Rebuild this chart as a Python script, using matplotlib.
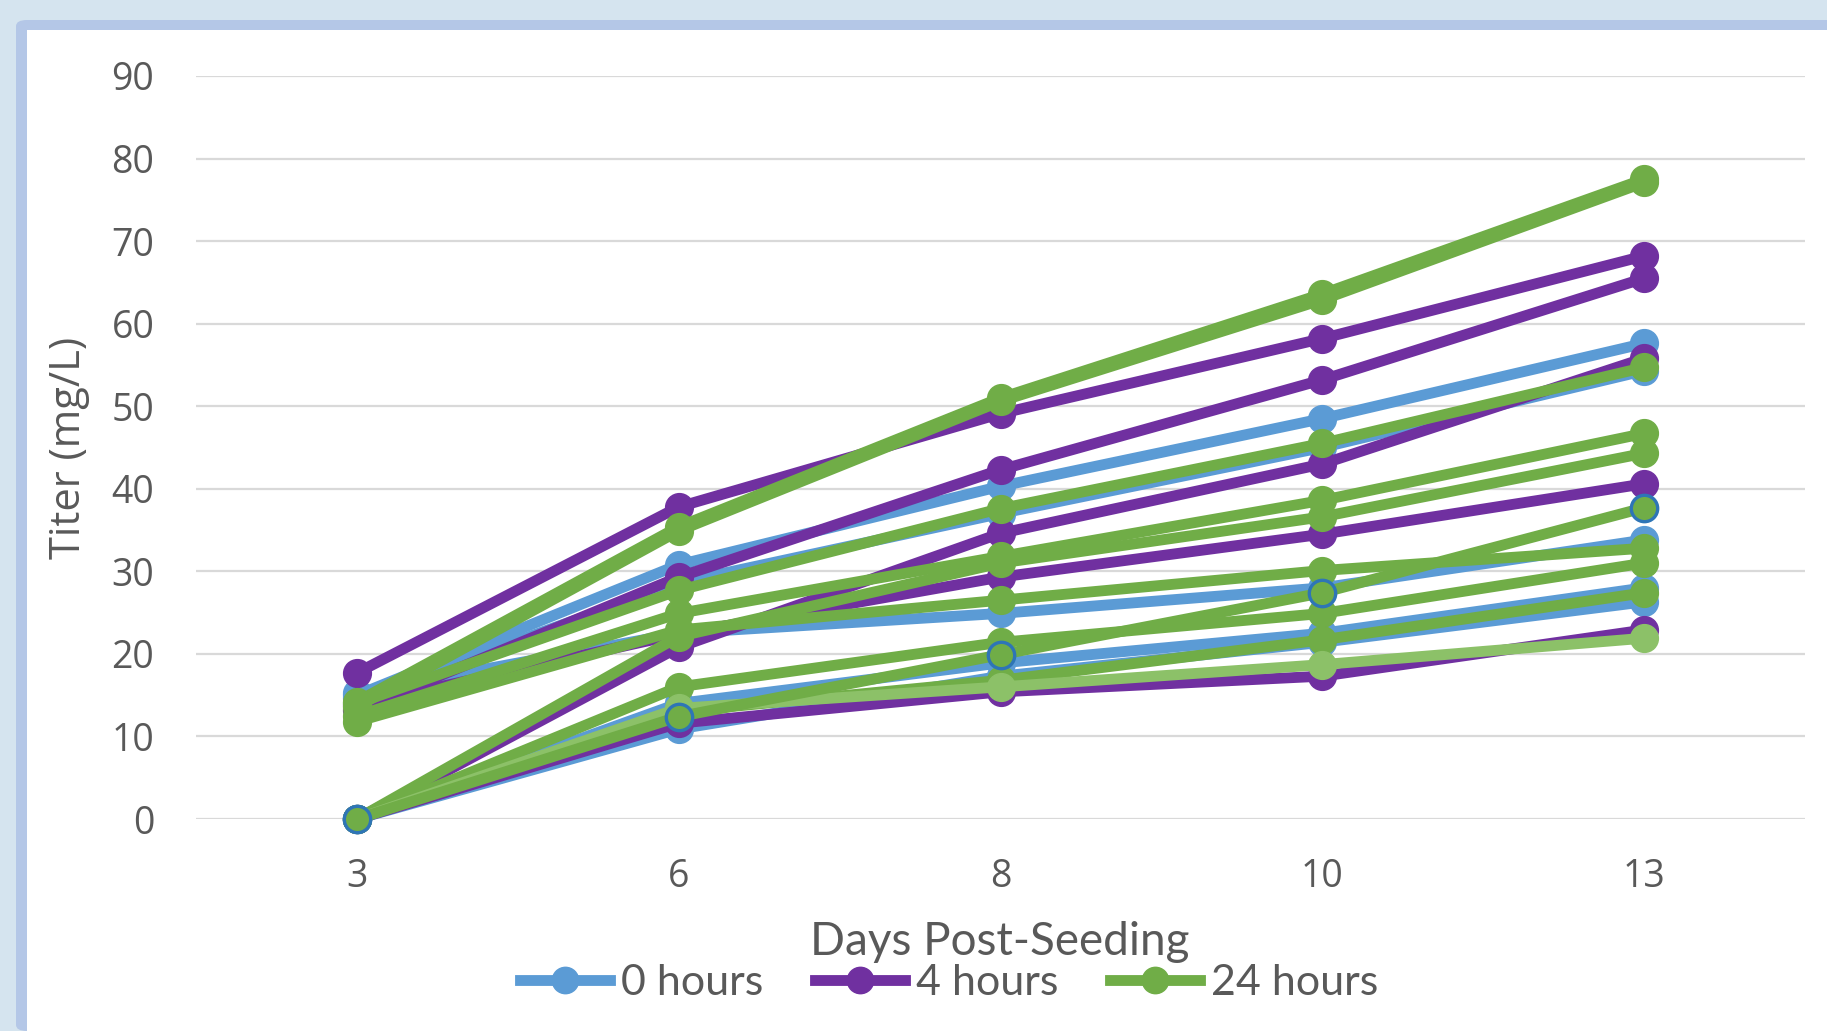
import numpy as np
import matplotlib
matplotlib.use("Agg")
import matplotlib.pyplot as plt
from matplotlib.lines import Line2D
from matplotlib.patches import FancyBboxPatch, Rectangle

days = ['3', '6', '8', '10', '13']

# 0 hours
blue_runs = [
    [15.0, 30.8, 40.3, 48.5, 57.6],
    [14.6, 28.6, 37.0, 45.0, 54.3],
    [15.3, 22.5, 24.9, 28.0, 33.8],
    [0.0, 14.0, 18.9, 22.5, 28.0],
    [0.0, 10.9, 17.3, 21.4, 26.3],
]
# 4 hours
purple_runs = [
    [17.7, 37.8, 49.1, 58.2, 68.2],
    [13.2, 29.3, 42.3, 53.2, 65.5],
    [0.0, 20.8, 34.6, 43.0, 55.8],
    [13.8, 22.4, 29.3, 34.5, 40.6],
    [0.0, 11.6, 15.4, 17.3, 22.9],
]
# 24 hours
green_runs = [
    [14.2, 35.4, 51.0, 63.6, 77.5],
    [13.6, 34.9, 50.6, 62.9, 77.1],
    [14.0, 27.7, 37.6, 45.5, 54.7],
    [12.5, 24.9, 31.8, 38.6, 46.7],
    [0.0, 22.1, 31.0, 36.6, 44.3],
    [11.8, 22.9, 26.5, 30.1, 32.8],
    [0.0, 16.0, 21.4, 24.9, 31.0],
    [0.0, 13.0, 16.8, 21.7, 27.4],
]
green_outlined = [0.0, 12.4, 19.9, 27.4, 37.7]
green_light = [0.0, 13.4, 16.0, 18.7, 21.9]

legend_labels = ['0 hours', '4 hours', '24 hours']

BLUE = '#5b9bd5'
PURPLE = '#7030a0'
GREEN = '#70ad47'
LIGHT_GREEN = '#8cc168'
EDGE_BLUE = '#2e75b6'
TEXT = '#595959'

W, H = 1827, 1031
fig = plt.figure(figsize=(W / 100, H / 100), dpi=100, facecolor='#d5e4ef')

# chart frame: blue band with rounded corner, white panel inside
fig.patches.append(FancyBboxPatch((16 / W, 0), 1.2, 1 - 20 / H,
                                  boxstyle='round,pad=0,rounding_size=0.006',
                                  transform=fig.transFigure, fc='#b4c7e7', ec='none',
                                  zorder=-2))
fig.patches.append(Rectangle((27 / W, 0), 1.2, 1 - 30 / H,
                             transform=fig.transFigure, fc='white', ec='none',
                             zorder=-1))

ax = fig.add_axes([196 / W, 1 - 819 / H, 1609 / W, 743 / H])
ax.set_zorder(2)
ax.set_facecolor('none')
x = np.arange(len(days))

lw = 7.8
ms = 20
for vals in blue_runs:
    ax.plot(x, vals, color=BLUE, lw=lw, marker='o', ms=ms, clip_on=False, zorder=3)
for vals in purple_runs:
    ax.plot(x, vals, color=PURPLE, lw=lw, marker='o', ms=ms, clip_on=False, zorder=3)
for vals in green_runs:
    ax.plot(x, vals, color=GREEN, lw=lw, marker='o', ms=ms, clip_on=False, zorder=3)
ax.plot(x, green_light, color=LIGHT_GREEN, lw=lw, marker='o', ms=ms, clip_on=False, zorder=3)
ax.plot(x, green_outlined, color=GREEN, lw=lw, marker='o', ms=ms - 1,
        mfc=GREEN, mec=EDGE_BLUE, mew=2.4, clip_on=False, zorder=3)

ax.set_xlim(-0.5, 4.5)
ax.set_ylim(0, 90)
ax.set_xticks(x)
ax.set_xticklabels(days)
ax.set_yticks(np.arange(0, 91, 10))
ax.grid(axis='y', color='#d9d9d9', lw=1.6, zorder=0)
ax.set_axisbelow(True)
for s in ax.spines.values():
    s.set_visible(False)
ax.tick_params(length=0, labelsize=27, labelcolor=TEXT)
ax.tick_params(axis='x', pad=28)
ax.tick_params(axis='y', pad=30)
for lab in ax.get_xticklabels() + ax.get_yticklabels():
    lab.set_fontfamily('Open Sans')

ax.set_ylabel('Titer (mg/L)', fontsize=30, color=TEXT, family='Open Sans')
ax.yaxis.set_label_coords((90 - 196) / 1609, 0.5)

fig.text(1000 / W, 1 - 955 / H, 'Days Post-Seeding', ha='center', va='baseline',
         fontsize=33, color=TEXT, family='Lato')

handles = [Line2D([], [], color=c, lw=lw, marker='o', ms=19)
           for c in (BLUE, PURPLE, GREEN)]
leg = fig.legend(handles, legend_labels, loc='center', ncol=3, frameon=False,
                 bbox_to_anchor=(949 / W, 1 - 983 / H), handlelength=2.1,
                 handletextpad=0.25, columnspacing=1.2,
                 prop={'family': 'Lato', 'size': 31})
for t in leg.get_texts():
    t.set_color(TEXT)

fig.savefig('out.png', dpi=100, facecolor=fig.get_facecolor())
